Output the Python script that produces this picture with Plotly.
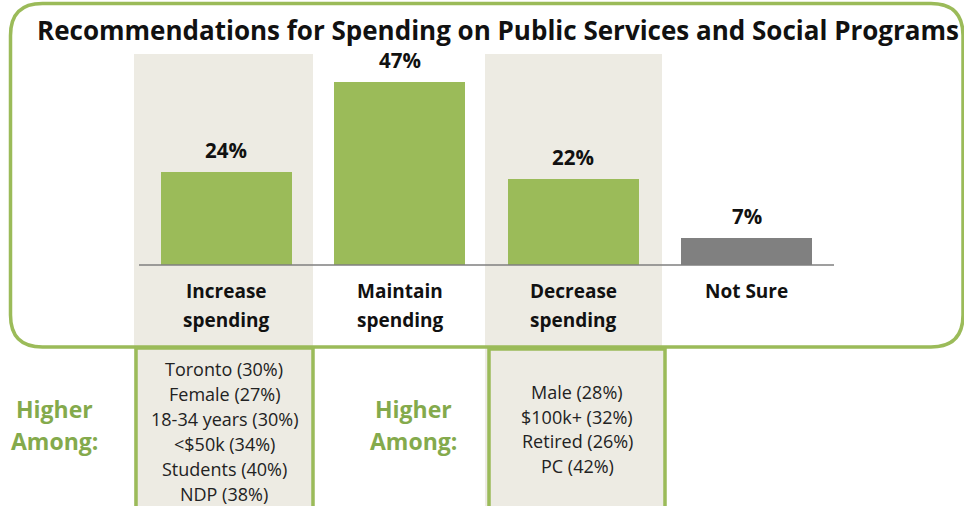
import plotly.graph_objects as go

# Survey results
categories = ["Increase<br>spending", "Maintain<br>spending", "Decrease<br>spending", "Not Sure"]
values = [24, 47, 22, 7]
bar_colors = ["#9BBB59", "#9BBB59", "#9BBB59", "#808080"]

title_text = "Recommendations for Spending on Public Services and Social Programs"
higher_label = ["Higher", "Among:"]
increase_groups = ["Toronto (30%)", "Female (27%)", "18-34 years (30%)",
                   "<$50k (34%)", "Students (40%)", "NDP (38%)"]
decrease_groups = ["Male (28%)", "$100k+ (32%)", "Retired (26%)", "PC (42%)"]

W, H = 964, 506
GREEN = "#9BBB59"
GREEN_TXT = "#84AA4C"
BEIGE = "#EDEBE3"
FONT = "'Open Sans', Lato, sans-serif"

# pixel layout of the category axis
CAT0_PX = 226.0      # centre of the first category
STEP_PX = 173.5      # distance between category centres
BASE_PX = 265.0      # baseline (value 0)
PX_PER_UNIT = 3.894  # vertical pixels per percentage point


def px(x):
    return x / W


def py(y):
    return 1 - y / H


x_range = [-CAT0_PX / STEP_PX, (W - CAT0_PX) / STEP_PX]
y_range = [-(H - BASE_PX) / PX_PER_UNIT, BASE_PX / PX_PER_UNIT]

x_idx = list(range(len(categories)))

fig = go.Figure()
fig.add_trace(go.Bar(
    x=x_idx, y=values, width=0.755,
    marker=dict(color=bar_colors, line=dict(width=0)),
    hoverinfo="skip", showlegend=False,
))

shapes = []
annotations = []

# shaded columns behind "Increase" and "Decrease"
for x0, x1 in [(134, 313), (485, 662)]:
    shapes.append(dict(type="rect", xref="paper", yref="paper",
                       x0=px(x0), x1=px(x1), y0=py(H), y1=py(54),
                       fillcolor=BEIGE, line=dict(width=0), layer="below"))

# baseline
shapes.append(dict(type="line", xref="paper", yref="y",
                   x0=px(139), x1=px(834), y0=0, y1=0,
                   line=dict(color="#7F7F7F", width=1.5)))

# rounded outer frame
L, T, R, B, r = 10.5, 3.5, 963, 347, 32


def rounded_path(L, T, R, B, r):
    pts = [
        f"M {px(L + r)} {py(T)}",
        f"L {px(R - r)} {py(T)}",
        f"Q {px(R)} {py(T)} {px(R)} {py(T + r)}",
        f"L {px(R)} {py(B - r)}",
        f"Q {px(R)} {py(B)} {px(R - r)} {py(B)}",
        f"L {px(L + r)} {py(B)}",
        f"Q {px(L)} {py(B)} {px(L)} {py(B - r)}",
        f"L {px(L)} {py(T + r)}",
        f"Q {px(L)} {py(T)} {px(L + r)} {py(T)}",
        "Z",
    ]
    return " ".join(pts)


shapes.append(dict(type="path", xref="paper", yref="paper",
                   path=rounded_path(L, T, R, B, r),
                   line=dict(color=GREEN, width=3.5)))

# "higher among" boxes
for x0, x1, y0 in [(136, 313, 348), (489, 665, 349)]:
    shapes.append(dict(type="rect", xref="paper", yref="paper",
                       x0=px(x0), x1=px(x1), y0=py(H + 5), y1=py(y0),
                       fillcolor=BEIGE, line=dict(color=GREEN, width=3.5)))

# title
annotations.append(dict(text=f"<b>{title_text}</b>", xref="paper", yref="paper",
                        x=px(498), y=py(30), showarrow=False,
                        xanchor="center", yanchor="middle",
                        font=dict(family=FONT, size=26, color="#111111")))

# value labels above bars
for i, v in enumerate(values):
    annotations.append(dict(text=f"<b>{v}%</b>", x=i, y=v, xref="x", yref="y",
                            showarrow=False, yanchor="bottom", yshift=6,
                            font=dict(family=FONT, size=20.5, color="#111111")))

# category labels below the baseline
for i, c in enumerate(categories):
    for j, line in enumerate(c.split("<br>")):
        annotations.append(dict(text=f"<b>{line}</b>", xref="x", yref="paper",
                                x=i, y=py(291 + 29 * j), showarrow=False,
                                xanchor="center", yanchor="middle",
                                font=dict(family=FONT, size=19, color="#111111")))

# "Higher Among:" side labels
for cx in [54, 413]:
    for j, line in enumerate(higher_label):
        annotations.append(dict(text=f"<b>{line}</b>", xref="paper", yref="paper",
                                x=px(cx), y=py(409 + 32 * j), showarrow=False,
                                xanchor="center", yanchor="middle",
                                font=dict(family=FONT, size=23, color=GREEN_TXT)))

# subgroup lists
for groups, cx, y_first, step in [(increase_groups, 224, 369, 25),
                                   (decrease_groups, 577, 392, 24.7)]:
    for j, g in enumerate(groups):
        annotations.append(dict(text=g, xref="paper", yref="paper",
                                x=px(cx), y=py(y_first + step * j), showarrow=False,
                                xanchor="center", yanchor="middle",
                                font=dict(family=FONT, size=18, color="#222222")))

fig.update_layout(
    width=W, height=H,
    margin=dict(l=0, r=0, t=0, b=0),
    paper_bgcolor="white", plot_bgcolor="rgba(0,0,0,0)",
    xaxis=dict(range=x_range, visible=False, fixedrange=True),
    yaxis=dict(range=y_range, visible=False, fixedrange=True),
    shapes=shapes, annotations=annotations,
    bargap=0,
)

fig.write_html("out.html")
